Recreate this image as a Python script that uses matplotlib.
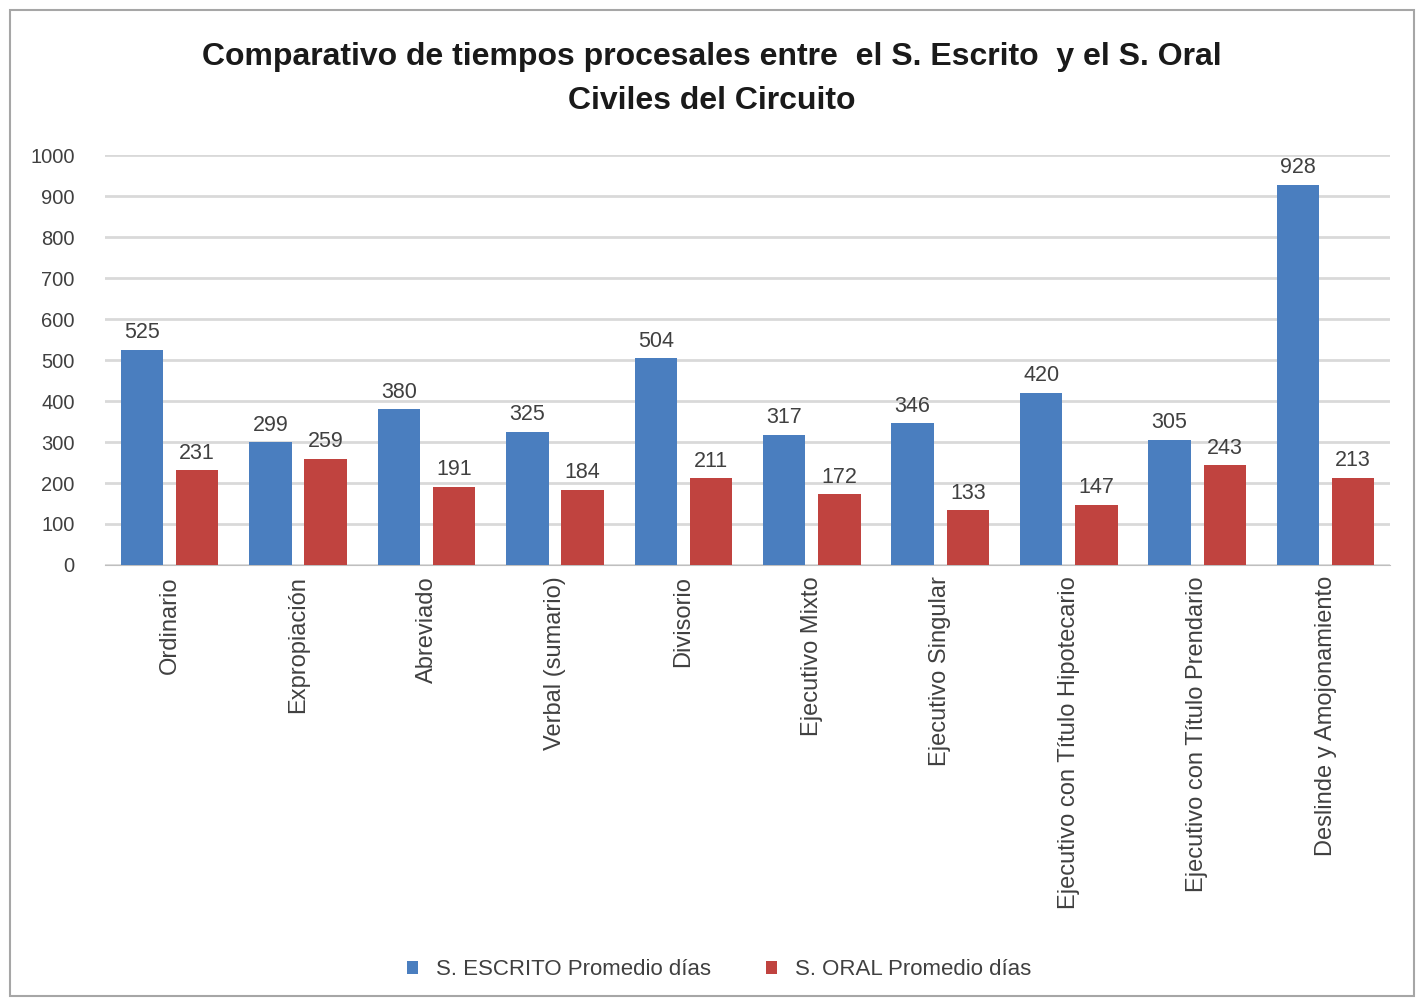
import numpy as np
import matplotlib
matplotlib.use("Agg")
import matplotlib.pyplot as plt
from matplotlib.patches import Rectangle

plt.rcParams['font.family'] = ['Liberation Sans', 'DejaVu Sans']

categories = ['Ordinario', 'Expropiación', 'Abreviado', 'Verbal (sumario)', 'Divisorio',
              'Ejecutivo Mixto', 'Ejecutivo Singular', 'Ejecutivo con Título Hipotecario',
              'Ejecutivo con Título Prendario', 'Deslinde y Amojonamiento']
escrito = [525, 299, 380, 325, 504, 317, 346, 420, 305, 928]
oral = [231, 259, 191, 184, 211, 172, 133, 147, 243, 213]
series_names = ['S. ESCRITO Promedio días', 'S. ORAL Promedio días']
yticks = [0, 100, 200, 300, 400, 500, 600, 700, 800, 900, 1000]

BLUE = '#4a7ebf'
RED = '#c0433f'

fig = plt.figure(figsize=(14.24, 10.01), dpi=100)
fig.patches.append(Rectangle((0.007, 0.005), 0.986, 0.985, transform=fig.transFigure,
                             fill=False, edgecolor='#a6a6a6', linewidth=1.5))
ax = fig.add_axes([0.074, 0.4356, 0.902, 0.4094])

x = np.arange(len(categories))
w = 0.33
b1 = ax.bar(x - 0.215, escrito, w, color=BLUE, label=series_names[0], zorder=3)
b2 = ax.bar(x + 0.215, oral, w, color=RED, label=series_names[1], zorder=3)

for bars in (b1, b2):
    for r in bars:
        ax.text(r.get_x() + r.get_width() / 2, r.get_height() + 16, f'{int(r.get_height())}',
                ha='center', va='bottom', fontsize=15.5, color='#404040')

ax.set_xlim(-0.5, len(categories) - 0.5)
ax.set_ylim(0, 1000)
ax.set_yticks(yticks)
ax.set_yticklabels([str(t) for t in yticks], fontsize=14.5, color='#404040')
ax.set_xticks(x)
ax.set_xticklabels(categories, rotation=90, fontsize=17, color='#404040')
ax.tick_params(axis='y', length=0, pad=22)
ax.tick_params(axis='x', length=0, pad=8)
ax.yaxis.grid(True, color='#d9d9d9', linewidth=2, zorder=0)
for s in ['top', 'right', 'left']:
    ax.spines[s].set_visible(False)
ax.spines['bottom'].set_color('#bfbfbf')

fig.text(0.5, 0.943, 'Comparativo de tiempos procesales entre  el S. Escrito  y el S. Oral',
         ha='center', va='center', fontsize=23, fontweight='bold', color='#1a1a1a')
fig.text(0.5, 0.899, 'Civiles del Circuito', ha='center', va='center',
         fontsize=23, fontweight='bold', color='#1a1a1a')

fig.legend(handles=[b1, b2], loc='center', bbox_to_anchor=(0.505, 0.031), ncol=2,
           frameon=False, fontsize=16, handlelength=0.5, handleheight=0.5,
           columnspacing=2.5, labelcolor='#404040')

fig.savefig('out.png', dpi=100)
